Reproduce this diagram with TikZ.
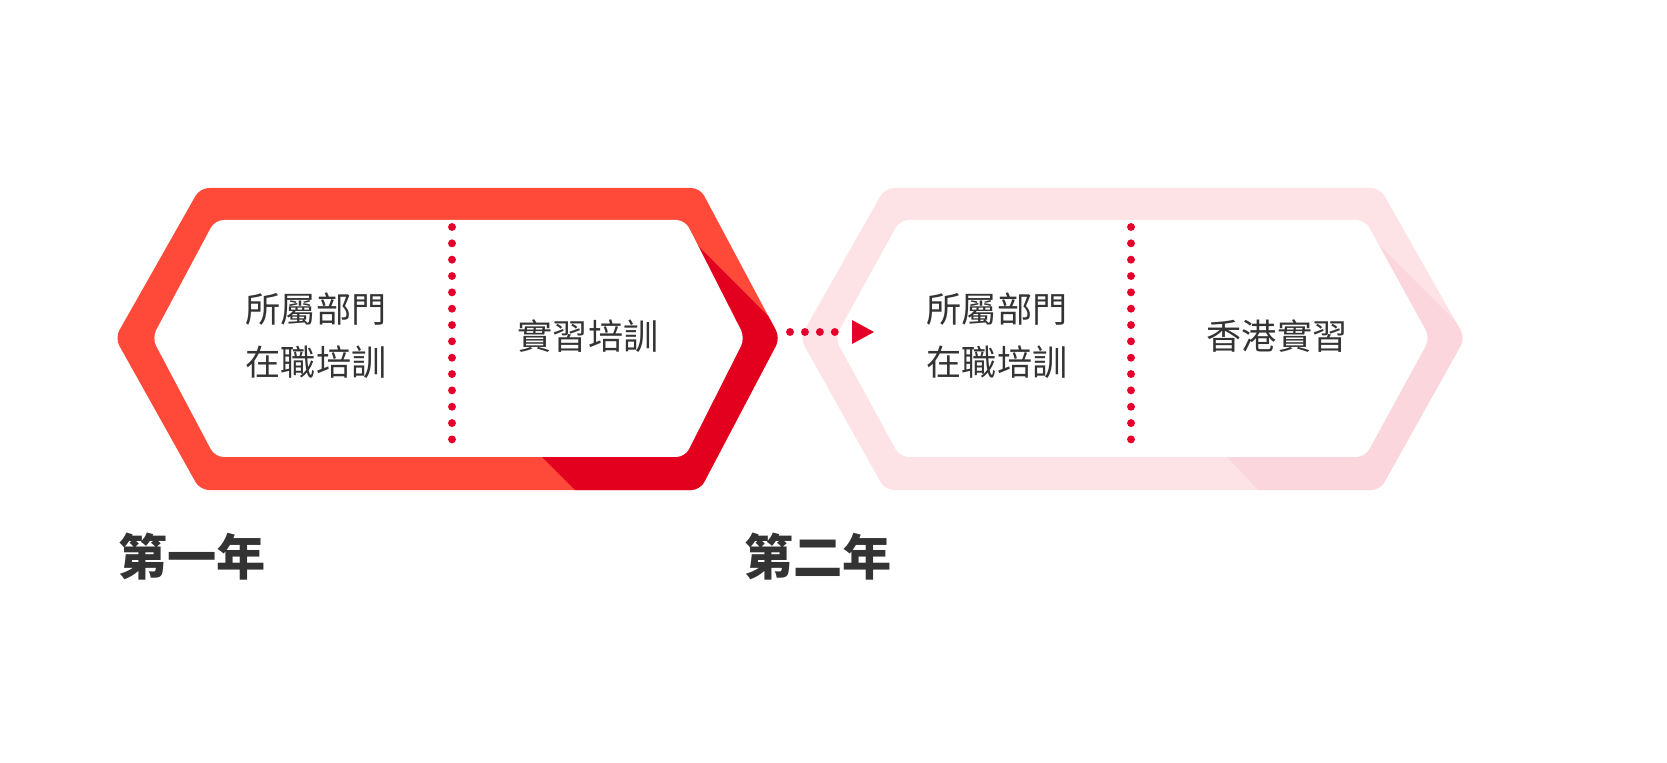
\documentclass[tikz,border=0pt]{standalone}
\usepackage{fontspec}
\newfontfamily\cjk{Noto Sans CJK TC}
\definecolor{ringRed}{HTML}{FF4A3A}
\definecolor{ringDark}{HTML}{E3001F}
\definecolor{ringPink}{HTML}{FDE3E5}
\definecolor{ringPinkDark}{HTML}{FBD6DC}
\definecolor{dotRed}{HTML}{E4002B}
\definecolor{textGray}{HTML}{333333}
\tikzset{
  stage/.style={font=\cjk\fontsize{20}{30}\selectfont, text=textGray, align=center},
  year/.style={font=\cjk\bfseries\fontsize{28}{30}\selectfont, text=textGray},
  divider/.style={dotRed, line width=4.5pt, line cap=round, dash pattern=on 0pt off 9.3pt},
}
\begin{document}
\begin{tikzpicture}[x=0.02cm, y=-0.02cm]
\useasboundingbox (0,0) rectangle (1667,763);
% first year ring
\fill[ringRed, rounded corners=5pt] (115,338) -- (200,188) -- (700,188) -- (780,338) -- (700,490) -- (200,490) -- cycle;
\begin{scope}
\clip[rounded corners=5pt] (115,338) -- (200,188) -- (700,188) -- (780,338) -- (700,490) -- (200,490) -- cycle;
\fill[ringDark] (688,236) -- (800,348) -- (800,500) -- (585,500) -- (540,455) -- cycle;
\end{scope}
\fill[white, rounded corners=5pt] (152,338) -- (215,220) -- (685,220) -- (745,338) -- (685,457) -- (215,457) -- cycle;
% second year ring
\fill[ringPink, rounded corners=5pt] (800,338) -- (885,188) -- (1380,188) -- (1465,338) -- (1380,490) -- (885,490) -- cycle;
\begin{scope}
\clip[rounded corners=5pt] (800,338) -- (885,188) -- (1380,188) -- (1465,338) -- (1380,490) -- (885,490) -- cycle;
\fill[ringPinkDark] (1370,236) -- (1485,351) -- (1485,500) -- (1268,500) -- (1225,455) -- cycle;
\end{scope}
\fill[white, rounded corners=5pt] (835,338) -- (900,220) -- (1365,220) -- (1430,338) -- (1365,457) -- (900,457) -- cycle;
% dividers
\coordinate (d1a) at (452,227); \coordinate (d1b) at (452,450);
\coordinate (d2a) at (1131,227); \coordinate (d2b) at (1131,450);
\draw[divider] (d1a) -- (d1b);
\draw[divider] (d2a) -- (d2b);
% link
\coordinate (la) at (790,332); \coordinate (lb) at (842,332);
\draw[divider, dash pattern=on 0pt off 8.5pt] (la) -- (lb);
\fill[dotRed] (852,320) -- (874,332) -- (852,344) -- cycle;
% labels
\node[stage] (s1) at (316,336) {所屬部門\\在職培訓};
\node[stage] (s2) at (588,336) {實習培訓};
\node[stage] (s3) at (997,336) {所屬部門\\在職培訓};
\node[stage] (s4) at (1277,336) {香港實習};
\node[year] (y1) at (192,557) {第一年};
\node[year] (y2) at (818,557) {第二年};
\end{tikzpicture}
\end{document}
